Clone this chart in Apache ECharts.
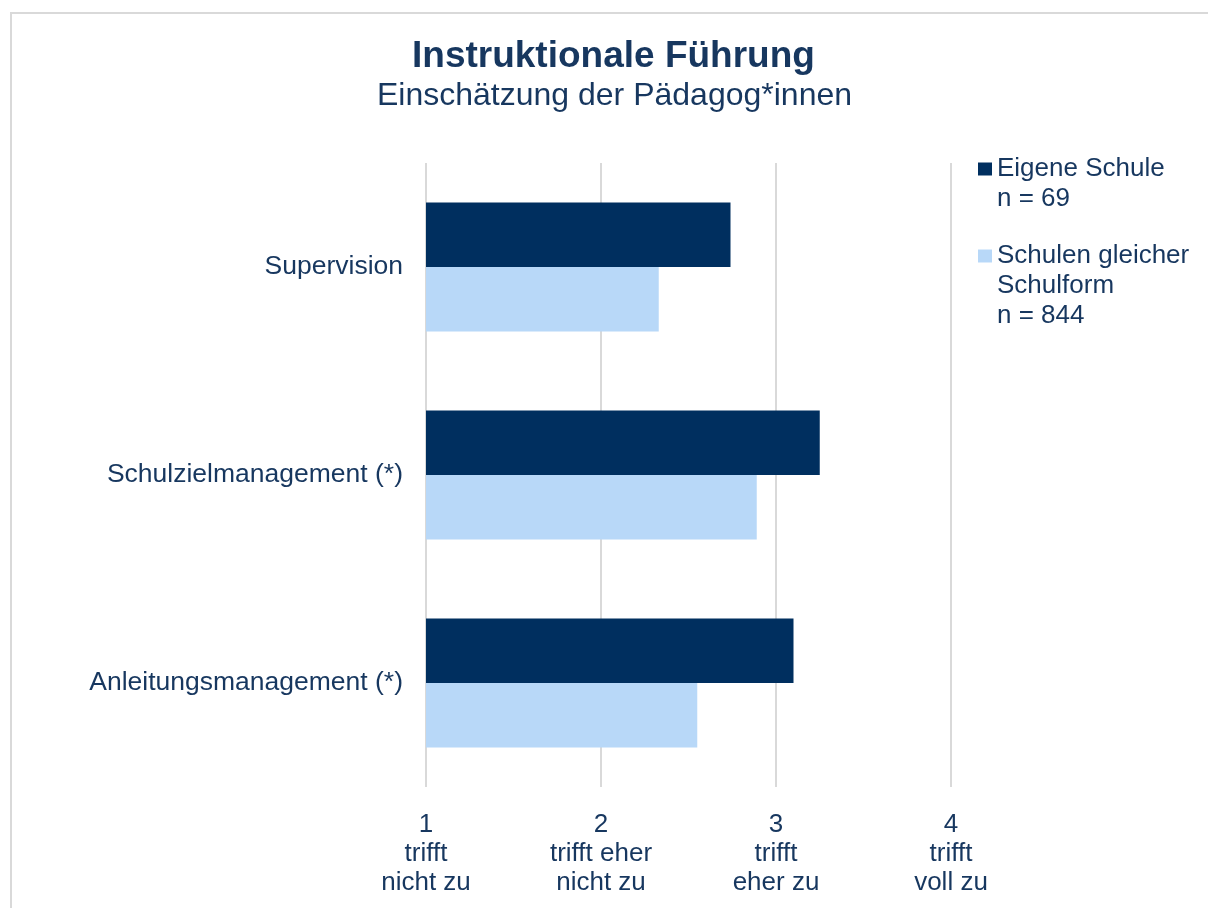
<!DOCTYPE html>
<html>
<head>
<meta charset="utf-8">
<script src="https://cdn.jsdelivr.net/npm/echarts@6/dist/echarts.min.js"></script>
<style>
  html, body { margin: 0; padding: 0; background: #fff; }
  #chart { width: 1208px; height: 908px; }
</style>
</head>
<body>
<div id="chart"></div>
<script>
// Kategorien und Werte
var categories = ['Supervision', 'Schulzielmanagement (*)', 'Anleitungsmanagement (*)'];
var eigeneSchule = [2.74, 3.25, 3.10];
var gleicheSchulform = [2.33, 2.89, 2.55];
var seriesNames = ['Eigene Schule', 'Schulen gleicher Schulform'];
var legendLines = [['Eigene Schule', 'n = 69'], ['Schulen gleicher', 'Schulform', 'n = 844']];
var tickLabels = { 1: '1\ntrifft\nnicht zu', 2: '2\ntrifft eher\nnicht zu', 3: '3\ntrifft\neher zu', 4: '4\ntrifft\nvoll zu' };

var navy = '#17375f';
var font = 'Liberation Sans, Arial, sans-serif';

// Legendentext: Leerzeilen oben, damit das Kästchen an der ersten Zeile steht
function legendText(name) {
  var lines = legendLines[seriesNames.indexOf(name)];
  var pad = [];
  for (var i = 1; i < lines.length; i++) pad.push(' ');
  return pad.concat(lines).join('\n');
}

function legendFor(i, top) {
  return {
    data: [seriesNames[i]],
    left: 978,
    top: top,
    padding: 0,
    icon: 'rect',
    itemWidth: 14,
    itemHeight: 13,
    formatter: legendText,
    textStyle: { color: navy, fontSize: 26, fontFamily: font, lineHeight: 30 }
  };
}

var option = {
  backgroundColor: '#fff',
  animation: false,
  title: [{
    text: 'Instruktionale Führung',
    left: 407,
    top: 33,
    textStyle: { color: navy, fontSize: 37, fontWeight: 'bold', fontFamily: font }
  }, {
    text: 'Einschätzung der Pädagog*innen',
    left: 372,
    top: 75,
    textStyle: { color: navy, fontSize: 32, fontWeight: 'normal', fontFamily: font }
  }],
  graphic: [{
    type: 'rect',
    shape: { x: 11, y: 13, width: 1400, height: 1100 },
    style: { fill: 'none', stroke: '#d9d9d9', lineWidth: 2 },
    silent: true
  }],
  legend: [legendFor(0, 124), legendFor(1, 181)],
  grid: { left: 426, right: 257, top: 163, bottom: 121 },
  xAxis: {
    type: 'value',
    min: 1,
    max: 4,
    interval: 1,
    axisLine: { show: false },
    axisTick: { show: false },
    splitLine: { show: true, lineStyle: { color: '#d9d9d9', width: 2 } },
    axisLabel: {
      margin: 23,
      color: navy,
      fontSize: 26,
      lineHeight: 29,
      fontFamily: font,
      formatter: function (v) { return tickLabels[v] || ''; }
    }
  },
  yAxis: {
    type: 'category',
    data: categories,
    inverse: true,
    axisLine: { show: false },
    axisTick: { show: false },
    axisLabel: { margin: 23, color: navy, fontSize: 26.5, fontFamily: font }
  },
  series: [{
    name: seriesNames[0],
    type: 'bar',
    data: eigeneSchule,
    barGap: '0%',
    barCategoryGap: '38%',
    itemStyle: { color: '#002f5f' }
  }, {
    name: seriesNames[1],
    type: 'bar',
    data: gleicheSchulform,
    barGap: '0%',
    barCategoryGap: '38%',
    itemStyle: { color: '#b8d8f8' }
  }]
};

var chart = echarts.init(document.getElementById('chart'));
chart.setOption(option);
</script>
</body>
</html>
